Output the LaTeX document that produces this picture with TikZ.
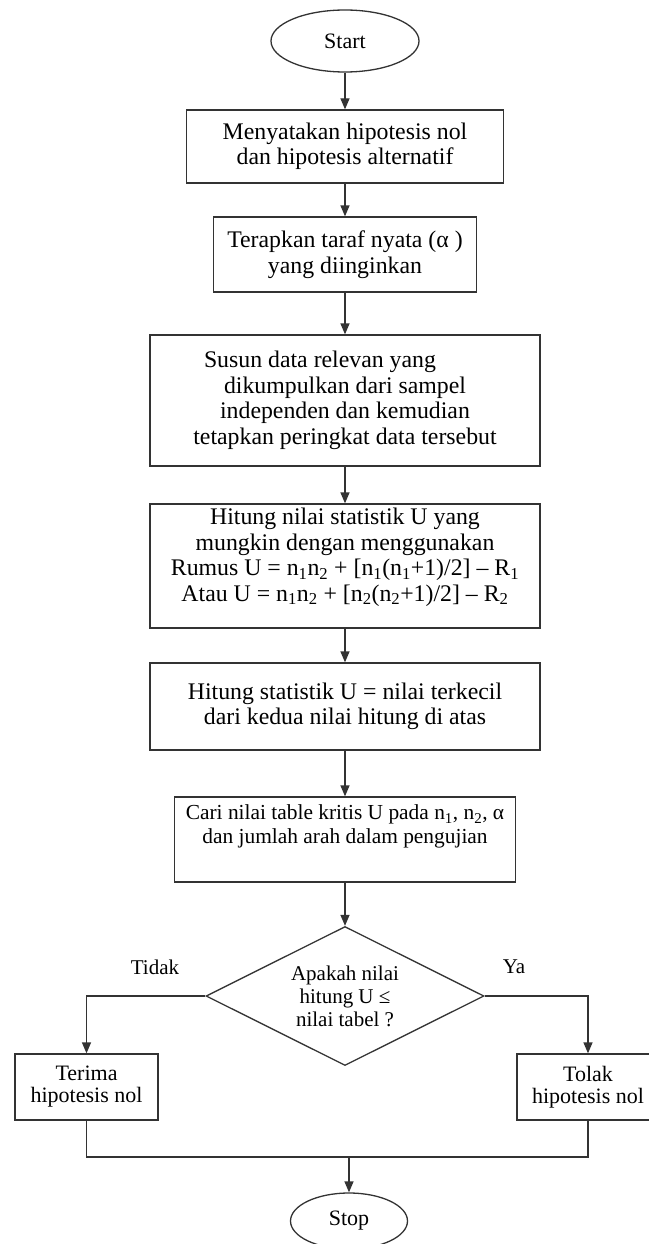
\documentclass[tikz,border=0pt]{standalone}
\usepackage{fontspec}
\setmainfont{Liberation Serif}
\usetikzlibrary{shapes.geometric,arrows.meta}
\tikzset{
  flow/.style={draw=black!80, line width=1.3pt},
  box/.style={flow, rectangle, align=center, inner sep=0pt, font=\fontsize{23.8}{25.5}\selectfont},
  smallbox/.style={box, font=\fontsize{21.4}{24}\selectfont},
  endbox/.style={box, font=\fontsize{22}{22}\selectfont},
  term/.style={flow, ellipse, inner sep=0pt, font=\fontsize{22}{24}\selectfont},
  ask/.style={flow, diamond, aspect=2, inner sep=0pt, align=center, font=\fontsize{21}{23}\selectfont},
  arr/.style={flow, -{Triangle[width=9pt,length=11pt]}},
  answer/.style={font=\fontsize{21}{24}\selectfont},
}
\begin{document}
\begin{tikzpicture}[x=1pt,y=-1pt]
  \useasboundingbox (0,0) rectangle (648,1244);%
  %% start / stop
  \node[term, minimum width=148pt, minimum height=62pt] (start) at (345,41) {Start};%
  \node[term, minimum width=117pt, minimum height=56pt] (stop) at (349,1221) {Stop};%

  %% the steps, top to bottom
  \node[box, minimum width=317pt, minimum height=73pt] (hyp) at (345,146.5) {Menyatakan hipotesis nol\\dan hipotesis alternatif};%
  \node[box, minimum width=263pt, minimum height=75pt] (alpha) at (345,254.5) {Terapkan taraf nyata (α )\\yang diinginkan};%
  \node[box, minimum width=390pt, minimum height=131pt] (rank) at (345,400.5) {Susun data relevan yang\hspace*{50pt}\\dikumpulkan dari sampel\\independen dan kemudian\\tetapkan peringkat data tersebut};%
  \node[box, minimum width=390pt, minimum height=124pt] (ustat) at (345,566) {Hitung nilai statistik U yang\\mungkin dengan menggunakan\\Rumus U = n\textsubscript{1}n\textsubscript{2} + [n\textsubscript{1}(n\textsubscript{1}+1)/2] – R\textsubscript{1}\\Atau U = n\textsubscript{1}n\textsubscript{2} + [n\textsubscript{2}(n\textsubscript{2}+1)/2] – R\textsubscript{2}\\[-3pt]\mbox{}};%
  \node[box, minimum width=390pt, minimum height=87pt] (minu) at (345,706.5) {Hitung statistik U = nilai terkecil\\dari kedua nilai hitung di atas};%
  \node[smallbox, minimum width=341pt, minimum height=85pt] (crit) at (345,839.5) {Cari nilai table kritis U pada n\textsubscript{1}, n\textsubscript{2}, α\\dan jumlah arah dalam pengujian\\[6pt]\mbox{}};%

  %% decision
  \node[ask, minimum width=278pt, minimum height=139pt] (dec) at (345,996) {Apakah nilai\\hitung U ≤\\nilai tabel ?};%
  \node[answer] (no) at (155,967) {Tidak};%
  \node[answer] (yes) at (514,967) {Ya};%
  \node[endbox, minimum width=143pt, minimum height=66pt] (accept) at (86.5,1087) {Terima\\hipotesis nol};%
  \node[endbox, minimum width=142pt, minimum height=66pt] (reject) at (588,1087) {Tolak\\hipotesis nol};%
  \coordinate (join) at (349,1157);%

  %% connectors
  \foreach \a/\b in {start/hyp, hyp/alpha, alpha/rank, rank/ustat, ustat/minu, minu/crit, crit/dec}
    \draw[arr] (\a) -- (\b);%
  \draw[arr] (dec.west) -| (accept.north);%
  \draw[arr] (dec.east) -| (reject.north);%
  \draw[flow] (accept.south) |- (join) -| (reject.south);%
  \draw[arr] (join) -- (stop);%
\end{tikzpicture}
\end{document}
